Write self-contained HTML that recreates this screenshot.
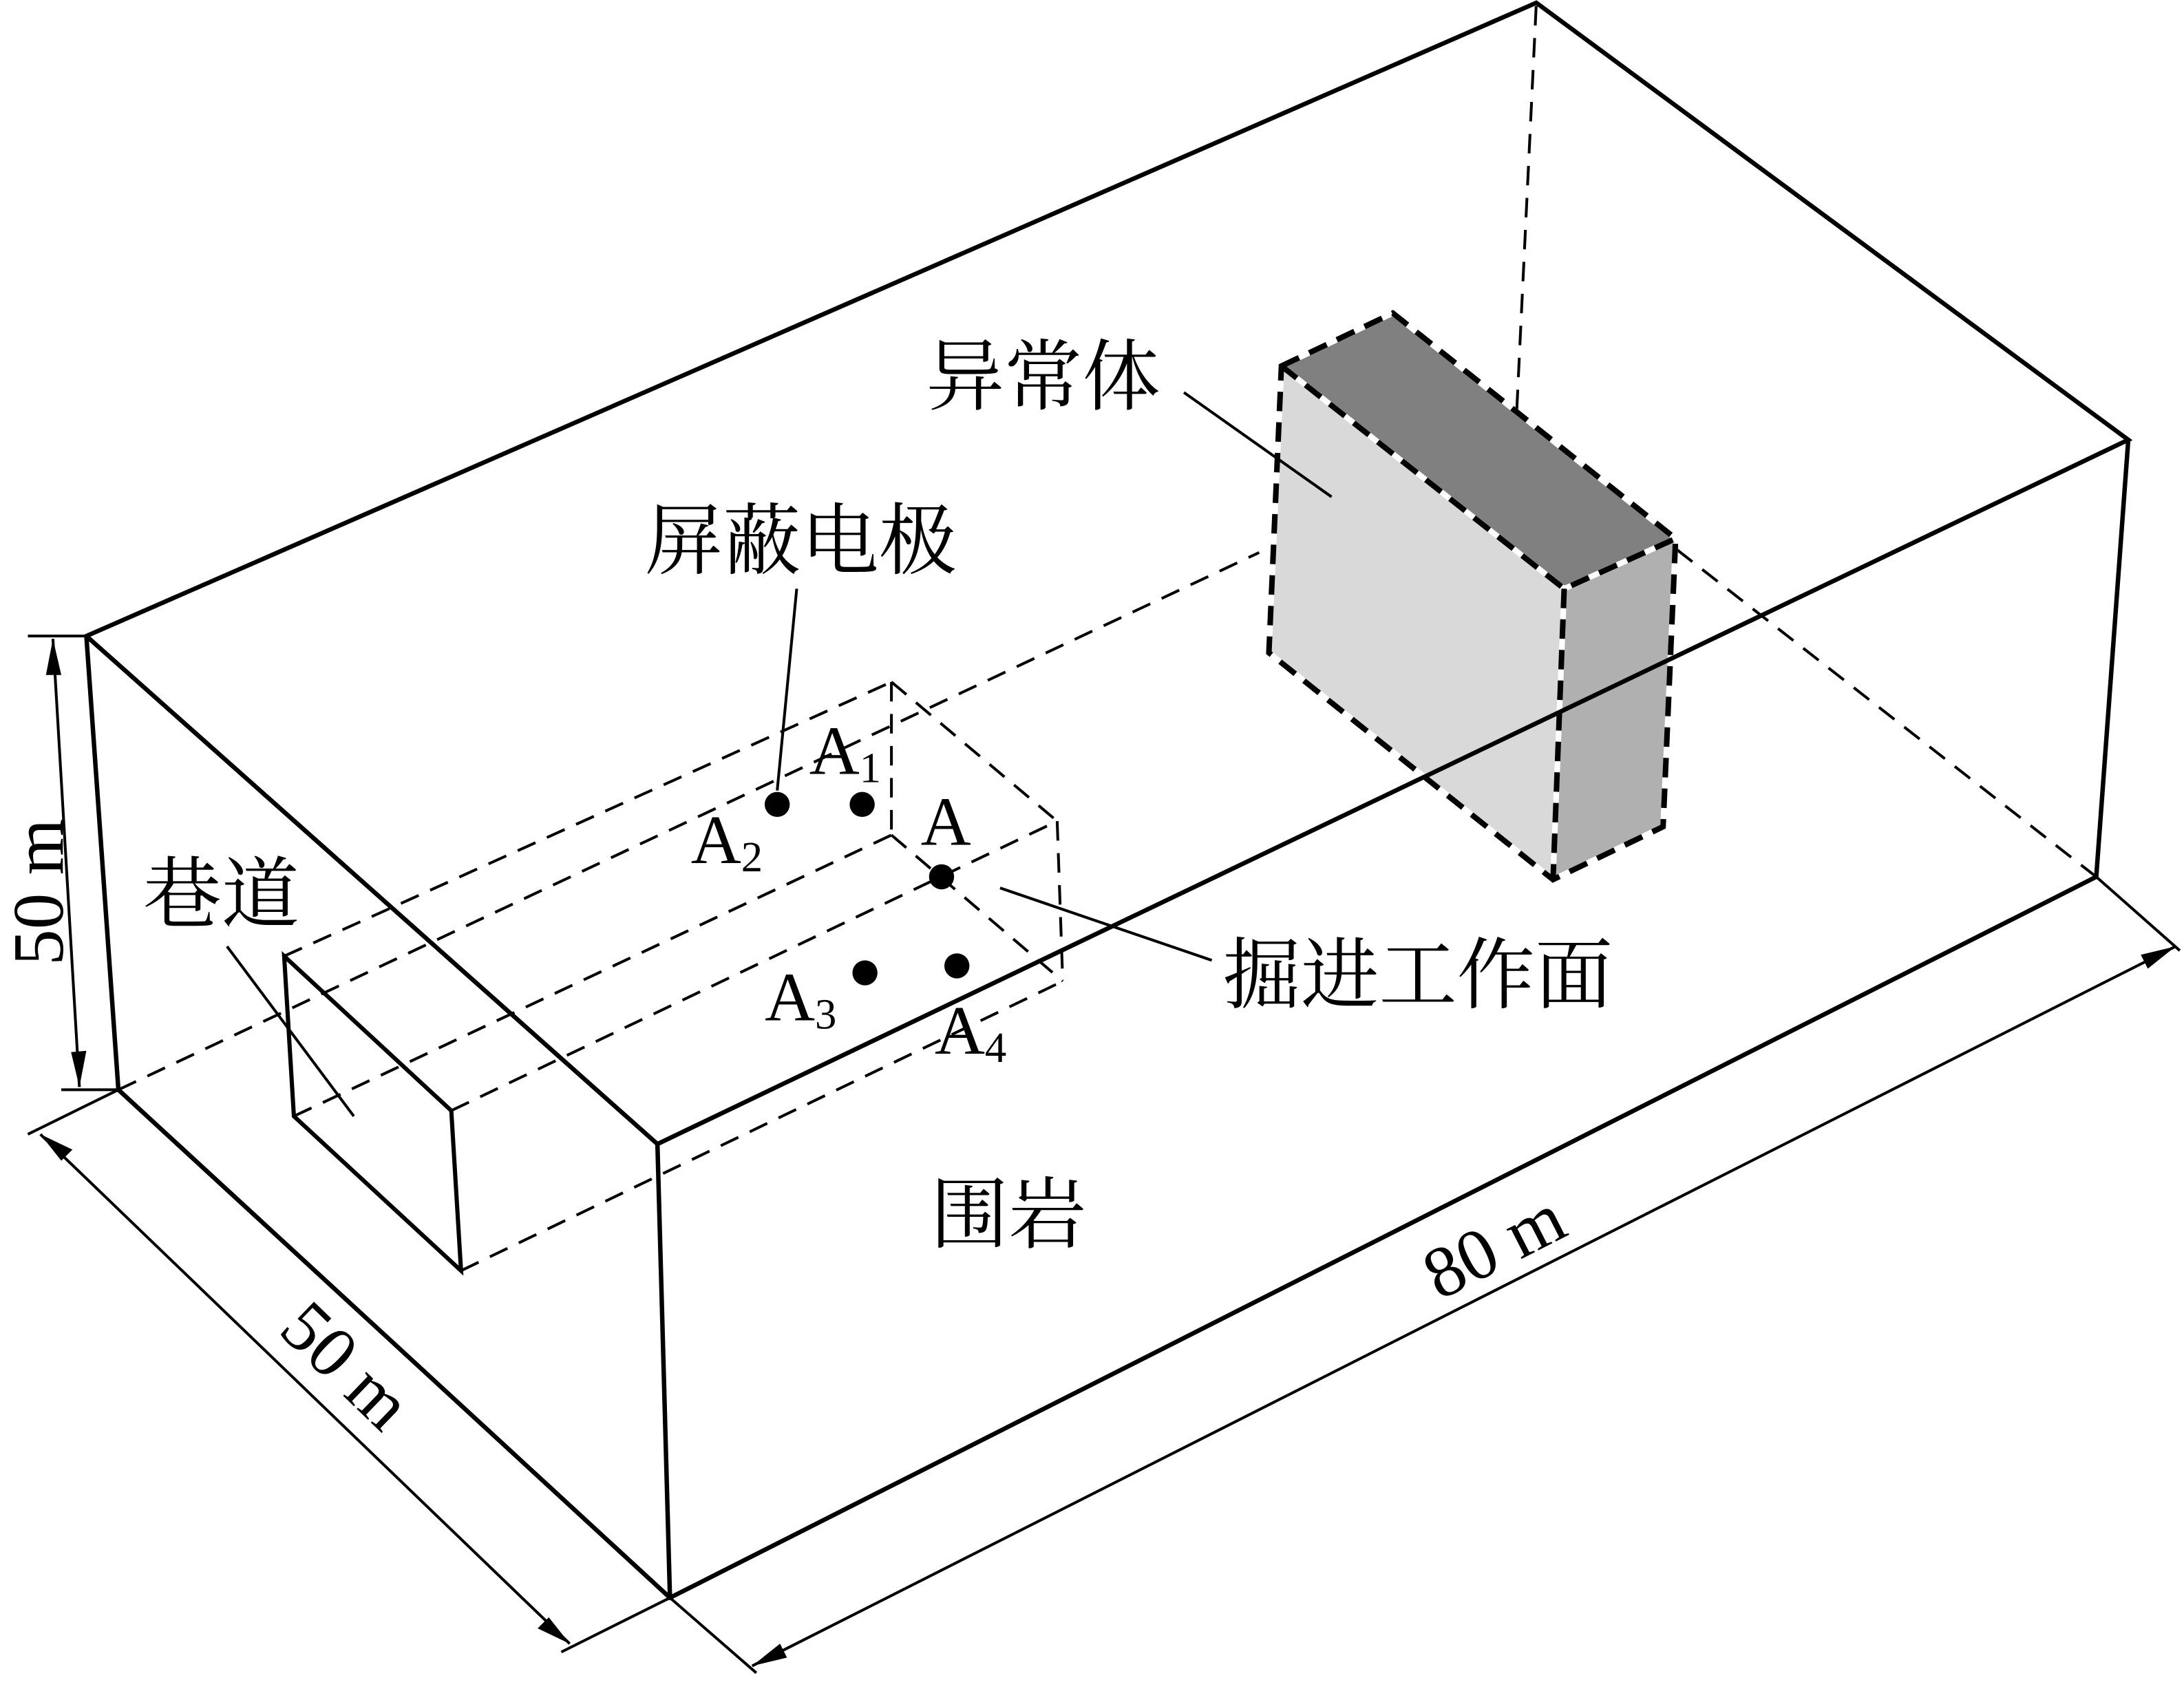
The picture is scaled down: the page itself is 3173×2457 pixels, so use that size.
<!DOCTYPE html>
<html><head><meta charset="utf-8">
<style>
html,body{margin:0;padding:0;background:#fff;}
svg{display:block;}
text{font-family:"Liberation Serif","Noto Serif CJK SC","Noto Sans CJK SC",serif;fill:#000;}
</style></head>
<body>
<svg width="3173" height="2457" viewBox="0 0 1568 1215" preserveAspectRatio="none" xmlns="http://www.w3.org/2000/svg">
<rect width="1568" height="1215" fill="#fff"/>
<g fill="none" stroke="#000" stroke-linecap="butt">
  <g stroke-width="2" stroke-dasharray="14 9">
    <line x1="85" y1="783" x2="904" y2="397"/>
    <line x1="1089" y1="294" x2="1103" y2="2"/>
    <line x1="1204" y1="395" x2="1505" y2="630"/>
    <line x1="204" y1="687" x2="640" y2="490"/>
    <line x1="324" y1="798" x2="759" y2="590"/>
    <line x1="211" y1="802" x2="640" y2="600"/>
    <line x1="331" y1="913" x2="763" y2="705"/>
    <line x1="640" y1="490" x2="759" y2="590"/>
    <line x1="759" y1="590" x2="763" y2="705"/>
    <line x1="640" y1="490" x2="640" y2="600"/>
    <line x1="640" y1="600" x2="763" y2="705"/>
  </g>
  <polygon points="204,687 324,798 331,913 211,802" stroke-width="3"/>
</g>

<polygon points="920,263 1123,423 1115,632 911,469" fill="#d9d9d9"/>
<polygon points="920,263 1000,225 1203,387 1123,423" fill="#808080"/>
<polygon points="1123,423 1203,387 1194,594 1115,632" fill="#b0b0b0"/>
<g fill="none" stroke-width="4" stroke-linejoin="miter">
  <g stroke="#fff">
    <polygon points="920,263 1000,225 1203,387 1194,594 1115,632 911,469"/>
    <polyline points="920,263 1123,423 1203,387"/>
    <line x1="1123" y1="423" x2="1115" y2="632"/>
  </g>
  <g stroke="#000" stroke-dasharray="14 8">
    <polygon points="920,263 1000,225 1203,387 1194,594 1115,632 911,469"/>
    <polyline points="920,263 1123,423 1203,387"/>
    <line x1="1123" y1="423" x2="1115" y2="632"/>
  </g>
</g>

<g fill="none" stroke="#000" stroke-width="3.2" stroke-linejoin="miter">
  <polygon points="62,457 1103,2 1528,316 472,822"/>
  <line x1="62" y1="457" x2="85" y2="783"/>
  <line x1="472" y1="822" x2="481" y2="1148"/>
  <line x1="1528" y1="316" x2="1505" y2="630"/>
  <polyline points="85,783 481,1148 1505,630"/>
</g>

<g fill="#000">
  <circle cx="558" cy="578" r="9"/>
  <circle cx="619" cy="578" r="9"/>
  <circle cx="676" cy="630" r="9"/>
  <circle cx="621" cy="699" r="9"/>
  <circle cx="687" cy="694" r="9"/>
</g>

<g stroke="#000" stroke-width="2" fill="none">
  <line x1="572" y1="423" x2="558" y2="568"/>
  <line x1="163" y1="680" x2="254" y2="802"/>
  <line x1="718" y1="638" x2="870" y2="690"/>
  <line x1="850" y1="282" x2="956" y2="357"/>
</g>

<g stroke="#000" stroke-width="2" fill="none">
  <line x1="20" y1="457" x2="62" y2="457"/>
  <line x1="44" y1="783" x2="85" y2="783"/>
  <line x1="38" y1="459" x2="57" y2="781"/>
  <line x1="85" y1="783" x2="20" y2="815"/>
  <line x1="481" y1="1148" x2="403" y2="1187"/>
  <line x1="29" y1="815" x2="409" y2="1181"/>
  <line x1="1505" y1="630" x2="1565" y2="683"/>
  <line x1="481" y1="1148" x2="543" y2="1202"/>
  <line x1="540" y1="1197" x2="1562" y2="680"/>
</g>
<g fill="#000">
  <polygon points="38,459 33,485 44,485"/>
  <polygon points="57,781 51,756 62,755"/>
  <polygon points="29,815 52,826 44,834"/>
  <polygon points="409,1181 386,1170 394,1162"/>
  <polygon points="540,1197 560,1181 565,1191"/>
  <polygon points="1562,680 1537,686 1542,696"/>
</g>

<g font-size="52">
  <text x="12" y="620" transform="rotate(-90 33 620)" text-anchor="middle" dominant-baseline="middle">50 m</text>
  <text x="245" y="985" transform="rotate(44 245 985)" text-anchor="middle" dominant-baseline="middle">50 m</text>
  <text x="1075" y="900" transform="rotate(-27 1075 900)" text-anchor="middle" dominant-baseline="middle">80 m</text>
</g>
<g font-size="56">
  <text x="463" y="408">屏蔽电极</text>
  <text x="665" y="290">异常体</text>
  <text x="103" y="662">巷道</text>
  <text x="878" y="720">掘进工作面</text>
  <text x="668" y="892">围岩</text>
</g>
<g font-size="50">
  <text x="581" y="556">A<tspan font-size="31" dy="6">1</tspan></text>
  <text x="496" y="620">A<tspan font-size="31" dy="6">2</tspan></text>
  <text x="661" y="607">A</text>
  <text x="549" y="733">A<tspan font-size="31" dy="6">3</tspan></text>
  <text x="671" y="757">A<tspan font-size="31" dy="6">4</tspan></text>
</g>
</svg>
</body></html>
